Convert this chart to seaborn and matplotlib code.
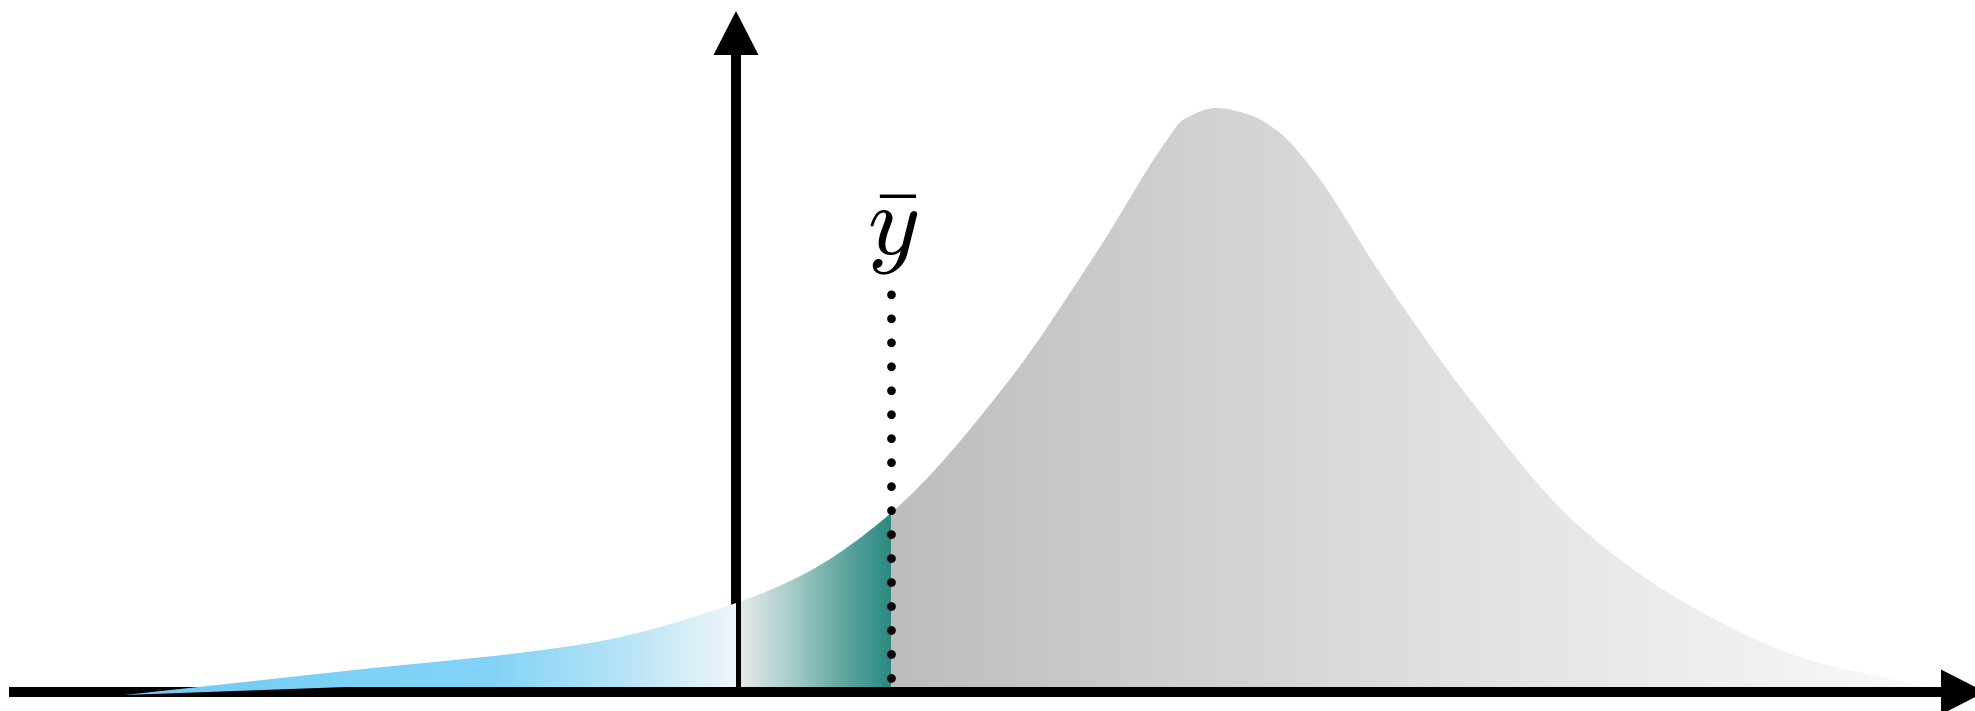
import numpy as np
import matplotlib
matplotlib.use("Agg")
import matplotlib.pyplot as plt
from matplotlib.colors import LinearSegmentedColormap
from matplotlib.path import Path
import seaborn as sns

# density outline (x in units of the axis grid, y height)
curve_x = [-6.12, -3.91, -1.46, 0.0, 0.70, 1.55, 2.71, 3.64, 4.31, 4.47, 4.81,
           5.14, 5.44, 5.77, 6.44, 7.29, 8.44, 9.58, 10.73, 11.50, 12.02]
curve_y = [-0.03, 0.21, 0.49, 0.89, 1.19, 1.79, 3.09, 4.45, 5.52, 5.72, 5.84,
           5.77, 5.59, 5.22, 4.19, 2.99, 1.65, 0.84, 0.32, 0.14, 0.02]
# lower edge of the blue tail (it runs over the x axis near the tip)
blue_low_x = [-6.12, -3.9, 0.0]
blue_low_y = [-0.03, 0.05, 0.05]

y_bar = 1.55          # position of the mean
dot_top = 3.98        # top of the dotted guide
dot_bottom = 0.14

blue_colors = ["#6fcaf3", "#7dd1f6", "#82d3f7", "#b2e2f6", "#eef5f9"]
blue_pos = [0.0, 0.35, 0.6, 0.8, 1.0]
teal_colors = ["#e9ecec", "#a9cdca", "#5ea69f", "#2b8a81"]
teal_pos = [0.0, 0.35, 0.7, 1.0]
gray_colors = ["#bdbdbd", "#d2d2d2", "#dbdbdb", "#e6e6e6", "#f0f0f0", "#fbfbfb"]
gray_pos = [0.0, 0.31, 0.445, 0.63, 0.82, 1.0]

sns.set_theme(style="white")
plt.rcParams["mathtext.fontset"] = "cm"

fig = plt.figure(figsize=(19.75, 7.11), dpi=100)
ax = fig.add_axes([0, 0, 1, 1])
ax.set_xlim(-7.36, 12.39)
ax.set_ylim(-0.19, 6.92)
ax.axis("off")

cx = np.array(curve_x)
cy = np.array(curve_y)
h = np.diff(cx)
d = np.diff(cy) / h
# monotone (pchip style) slopes so the outline doesn't wobble
slope = np.zeros_like(cx)
slope[0], slope[-1] = d[0], d[-1]
for k in range(1, len(cx) - 1):
    if d[k - 1] * d[k] > 0:
        w1 = 2 * h[k] + h[k - 1]
        w2 = h[k] + 2 * h[k - 1]
        slope[k] = (w1 + w2) / (w1 / d[k - 1] + w2 / d[k])


def smooth_outline(i0, i1):
    """cubic bezier segments through the curve points i0..i1"""
    verts = [(cx[i0], cy[i0])]
    codes = [Path.MOVETO]
    for i in range(i0, i1):
        dx = h[i] / 3
        verts += [(cx[i] + dx, cy[i] + slope[i] * dx),
                  (cx[i + 1] - dx, cy[i + 1] - slope[i + 1] * dx),
                  (cx[i + 1], cy[i + 1])]
        codes += [Path.CURVE4] * 3
    return verts, codes


def gradient_fill(x0, x1, colors, pos, low_x=None, low_y=None, z=1):
    """fill the curve between x0 and x1 with a left-to-right gradient"""
    i0 = curve_x.index(x0)
    i1 = curve_x.index(x1)
    verts, codes = smooth_outline(i0, i1)
    if low_x is None:
        low = [(x1, 0.0), (x0, 0.0)]
    else:
        low = list(zip(low_x[::-1], low_y[::-1]))
    for p in low:
        verts.append(p)
        codes.append(Path.LINETO)
    verts.append(verts[0])
    codes.append(Path.CLOSEPOLY)
    clip = Path(np.array(verts, dtype=float), codes)
    cmap = LinearSegmentedColormap.from_list("g", list(zip(pos, colors)))
    grad = np.linspace(0, 1, 512).reshape(1, -1)
    im = ax.imshow(grad, cmap=cmap, aspect="auto", interpolation="bilinear",
                   extent=[x0, x1, -0.05, max(curve_y) + 0.1],
                   origin="lower", zorder=z)
    im.set_clip_path(clip, ax.transData)


gradient_fill(y_bar, curve_x[-1], gray_colors, gray_pos, z=1)
gradient_fill(0.0, y_bar, teal_colors, teal_pos, z=1)

# axes drawn as arrows
ax.arrow(-7.27, 0, 19.76, 0, width=0.10, head_width=0.45, head_length=0.44,
         length_includes_head=True, color="black", lw=0, zorder=3)
ax.arrow(0, 0, 0, 6.81, width=0.10, head_width=0.45, head_length=0.44,
         length_includes_head=True, color="black", lw=0, zorder=3)

gradient_fill(curve_x[0], 0.0, blue_colors, blue_pos, blue_low_x, blue_low_y, z=4)

# dotted guide at the mean
sns.lineplot(x=[y_bar, y_bar], y=[dot_bottom, dot_top + 0.02], orient="y", ax=ax,
             color="black", lw=6.3, linestyle=(0, (0.01, 2.73)),
             dash_capstyle="round", zorder=5)

ax.text(y_bar + 0.02, 4.62, r"$\bar{y}$", fontsize=72, ha="center", va="center",
        color="black")

fig.savefig("out.png", dpi=100)
